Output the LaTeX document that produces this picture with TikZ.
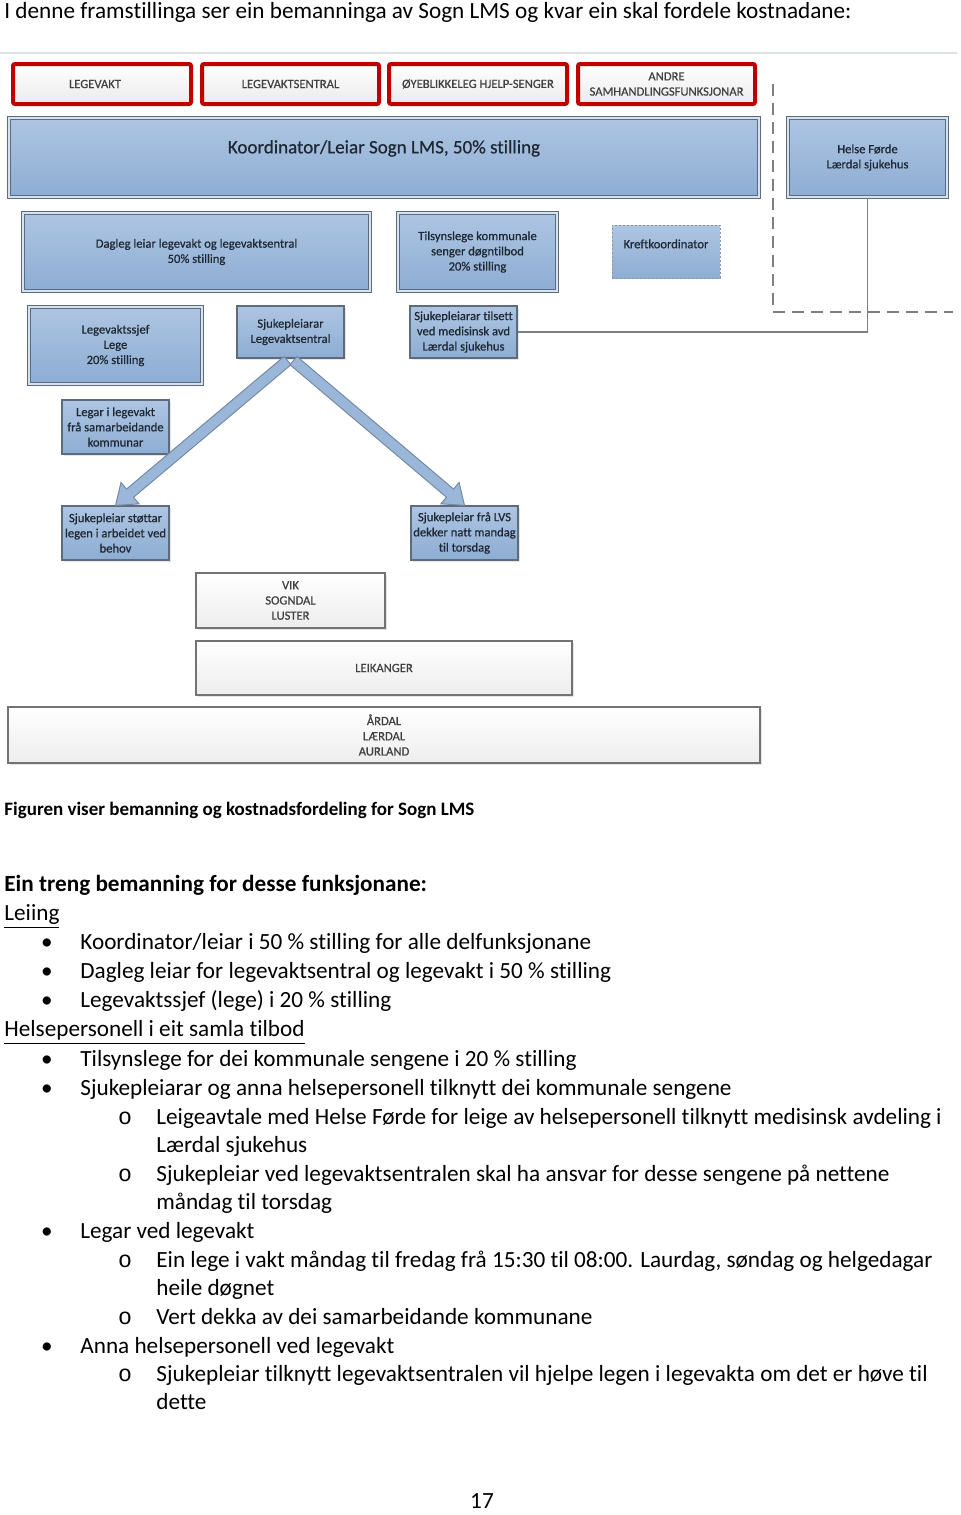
\documentclass[tikz,border=0pt]{standalone}
\usepackage{fontspec}
\setmainfont{Carlito}[Ligatures=NoCommon]
\newfontfamily\lmsdiag{Carlito}[Ligatures=NoCommon, FakeBold=0.6]
\newfontfamily\lmsmono{Liberation Mono}
\usetikzlibrary{fit,calc,shadows}

\definecolor{lmsred}{HTML}{C00000}
\definecolor{lmsblue}{HTML}{9AB7DA}
\definecolor{lmsbluetop}{HTML}{AEC5E2}
\definecolor{lmsbluebot}{HTML}{8DADD3}
\definecolor{lmsedge}{HTML}{5D6C7D}
\definecolor{lmsink}{HTML}{1E2833}
\definecolor{lmsgrey}{HTML}{404040}
\definecolor{lmsline}{HTML}{7F7F7F}
\definecolor{lmsrule}{HTML}{DCE2E6}

\newcommand\lmsbody{\fontsize{11.6pt}{14.3pt}\selectfont}
\newcommand\lmssmall{\lmsdiag\fontsize{6.3pt}{7.6pt}\selectfont}

\tikzset{
  para/.style={font=\lmsbody, anchor=mid west, inner sep=0pt, yshift=-2pt},
  boxtext/.style={font=\lmssmall, text=lmsink, align=center, inner sep=0pt},
  lbl/.style={boxtext},
  redbox/.style={draw=lmsred, line width=2pt, rounded corners=1pt, inner sep=0pt,
    top color=white, bottom color=black!8},
  bluebox/.style={draw=lmsedge, line width=0.6pt, inner sep=0pt, top color=lmsbluetop, bottom color=lmsbluebot,
    drop shadow={opacity=0.2, shadow xshift=0.8pt, shadow yshift=-0.8pt}},
  dblbox/.style={bluebox, line width=0.5pt, double=lmsbluetop!50!white, double distance=0.8pt},
  dashbox/.style={draw=lmsedge!70, line width=0.5pt, dash pattern=on 1.2pt off 0.8pt, inner sep=0pt,
    top color=lmsbluetop, bottom color=lmsbluebot},
  greybox/.style={draw=black!55, line width=0.6pt, inner sep=0pt, top color=white, bottom color=black!7,
    drop shadow={opacity=0.2, shadow xshift=0.8pt, shadow yshift=-0.8pt}},
  arrowfill/.style={fill=lmsblue, draw=lmsedge!60!lmsblue, line width=0.5pt},
  conn/.style={draw=lmsline, line width=0.75pt},
  dashline/.style={draw=lmsline, line width=1pt, dash pattern=on 6pt off 3.5pt},
}

% fat block arrow from #1 to #2
\newcommand\lmsarrow[2]{%
  \filldraw[arrowfill] ($(#1)!2.7pt!90:(#2)$) -- ($(#2)!9.5pt!(#1)!2.7pt!-90:(#1)$)
    -- ($(#2)!9.5pt!(#1)!7pt!-90:(#1)$) -- (#2) -- ($(#2)!9.5pt!(#1)!7pt!90:(#1)$)
    -- ($(#2)!9.5pt!(#1)!2.7pt!90:(#1)$) -- ($(#1)!2.7pt!-90:(#2)$) -- cycle;
}

\begin{document}
\begin{tikzpicture}[x=0.5pt,y=-0.5pt]
  % Page
  \fill[white] (0,0) rectangle (960,1515);
  \useasboundingbox (0,0) rectangle (960,1515);

  % Intro
  \node[para] (intro) at (4,10) {I denne framstillinga ser ein bemanninga av Sogn LMS og kvar ein skal fordele kostnadane:};
  \draw[lmsrule, line width=0.8pt] (0,53) -- (957,53);

  % Functions (red)
  \node[redbox, fit={(13,64) (191,104)}, label={[lbl, text=lmsgrey, xshift=-3.5pt]center:LEGEVAKT}] (legevakt) {};
  \node[redbox, fit={(202,64) (379,104)}, label={[lbl, text=lmsgrey]center:LEGEVAKTSENTRAL}] (sentral) {};
  \node[redbox, fit={(389,64) (567,104)}, label={[lbl, text=lmsgrey]center:ØYEBLIKKELEG HJELP-SENGER}] (senger) {};
  \node[redbox, fit={(578,64) (755,104)}, label={[lbl, text=lmsgrey]center:{ANDRE\\SAMHANDLINGSFUNKSJONAR}}] (andre) {};

  % Leiing
  \node[dblbox, fit={(9,118) (759,197)},
    label={[boxtext, font=\lmsdiag\fontsize{9.5pt}{11pt}\selectfont, yshift=4.55pt]center:{Koordinator/Leiar Sogn LMS, 50\% stilling}}] (koord) {};
  \node[dblbox, fit={(788,118) (947,197)}, label={[lbl]center:{Helse Førde\\Lærdal sjukehus}}] (helse) {};

  \node[dblbox, fit={(23,213) (370,291)}, label={[lbl]center:{Dagleg leiar legevakt og legevaktsentral\\50\% stilling}}] (dagleg) {};
  \node[dblbox, fit={(398,213) (557,291)}, label={[lbl]center:{Tilsynslege kommunale\\senger døgntilbod\\20\% stilling}}] (tilsyn) {};
  \node[dashbox, fit={(612,225) (720,278)}, label={[boxtext, yshift=3.8pt]center:Kreftkoordinator}] (kreft) {};

  % Personell
  \node[dblbox, fit={(29,307) (202,384)}, label={[lbl]center:{Legevaktssjef\\Lege\\20\% stilling}}] (sjef) {};
  \node[bluebox, fit={(237,306) (344,358)}, label={[lbl]center:{Sjukepleiarar\\Legevaktsentral}}] (ll) {};
  \node[bluebox, fit={(410,306) (517,358)}, label={[lbl]center:{Sjukepleiarar tilsett\\ved medisinsk avd\\Lærdal sjukehus}}] (tilsett) {};
  \node[bluebox, fit={(62,400) (169,454)}, label={[lbl]center:{Legar i legevakt\\frå samarbeidande\\kommunar}}] (legar) {};
  \node[bluebox, fit={(62,506) (169,560)}, label={[lbl]center:{Sjukepleiar støttar\\legen i arbeidet ved\\behov}}] (stottar) {};
  \node[bluebox, fit={(411,506) (518,560)}, label={[lbl]center:{Sjukepleiar frå LVS\\dekker natt mandag\\til torsdag}}] (lvs) {};

  % Kommunar
  \node[greybox, fit={(196,573) (385,628)}, label={[lbl, text=lmsgrey]center:{VIK\\SOGNDAL\\LUSTER}}] (vik) {};
  \node[greybox, fit={(196,641) (572,695)}, label={[lbl, text=lmsgrey]center:LEIKANGER}] (leik) {};
  \node[greybox, fit={(8,707) (760,763)}, label={[lbl, text=lmsgrey]center:{ÅRDAL\\LÆRDAL\\AURLAND}}] (ardal) {};

  % Links
  \coordinate (dtop) at (773,84);
  \coordinate (dend) at (953,312);
  \draw[dashline] (dtop) |- (dend);
  \draw[conn] (helse.south) |- (tilsett.east);

  % Arrows
  \coordinate (forkl) at ([xshift=-1.5pt,yshift=-1pt]ll.south);
  \coordinate (forkr) at ([xshift=1.5pt,yshift=-1pt]ll.south);
  \lmsarrow{forkl}{stottar.north}
  \lmsarrow{forkr}{lvs.north}

  % Caption and list
  \node[para, font=\fontsize{9.5pt}{11pt}\selectfont\bfseries] (cap) at (4,807)
    {Figuren viser bemanning og kostnadsfordeling for Sogn LMS};
  \node[para, font=\lmsbody\bfseries] (head) at (4,883) {Ein treng bemanning for desse funksjonane:};

  \node[para] (leiing) at (4,912) {\underline{Leiing}};
  \node[para] (t1) at (80,941) {Koordinator/leiar i 50 \% stilling for alle delfunksjonane};
  \node[para] (t2) at (80,970) {Dagleg leiar for legevaktsentral og legevakt i 50 \% stilling};
  \node[para] (t3) at (80,999) {Legevaktssjef (lege) i 20 \% stilling};
  \node[para] (samla) at (4,1028) {\underline{Helsepersonell i eit samla tilbod}};
  \node[para] (t4) at (80,1058) {Tilsynslege for dei kommunale sengene i 20 \% stilling};
  \node[para] (t5) at (80,1087) {Sjukepleiarar og anna helsepersonell tilknytt dei kommunale sengene};
  \node[para] (s1) at (156,1116) {Leigeavtale med Helse Førde for leige av helsepersonell tilknytt medisinsk avdeling i};
  \node[para] (s1b) at (156,1144) {Lærdal sjukehus};
  \node[para] (s2) at (156,1173) {Sjukepleiar ved legevaktsentralen skal ha ansvar for desse sengene på nettene};
  \node[para] (s2b) at (156,1201) {måndag til torsdag};
  \node[para] (t6) at (80,1230) {Legar ved legevakt};
  \node[para] (s3) at (156,1259) {Ein lege i vakt måndag til fredag frå 15:30 til 08:00. Laurdag, søndag og helgedagar};
  \node[para] (s3b) at (156,1287) {heile døgnet};
  \node[para] (s4) at (156,1316) {Vert dekka av dei samarbeidande kommunane};
  \node[para] (t7) at (80,1345) {Anna helsepersonell ved legevakt};
  \node[para] (s5) at (156,1373) {Sjukepleiar tilknytt legevaktsentralen vil hjelpe legen i legevakta om det er høve til};
  \node[para] (s5b) at (156,1401) {dette};

  % Bullets
  \foreach \y in {941,970,999,1058,1087,1230,1345} {
    \node[font=\lmsbody, inner sep=0pt, anchor=mid, yshift=-2pt] (b\y) at (47,\y) {\textbullet};
  }
  \foreach \y in {1116,1173,1259,1316,1373} {
    \node[font=\lmsbody\lmsmono, inner sep=0pt, anchor=mid, yshift=-2pt] (o\y) at (125,\y) {o};
  }

  % Page number
  \node[font=\lmsbody, inner sep=0pt, anchor=mid, yshift=-2pt] (page) at (482,1500) {17};
\end{tikzpicture}
\end{document}
